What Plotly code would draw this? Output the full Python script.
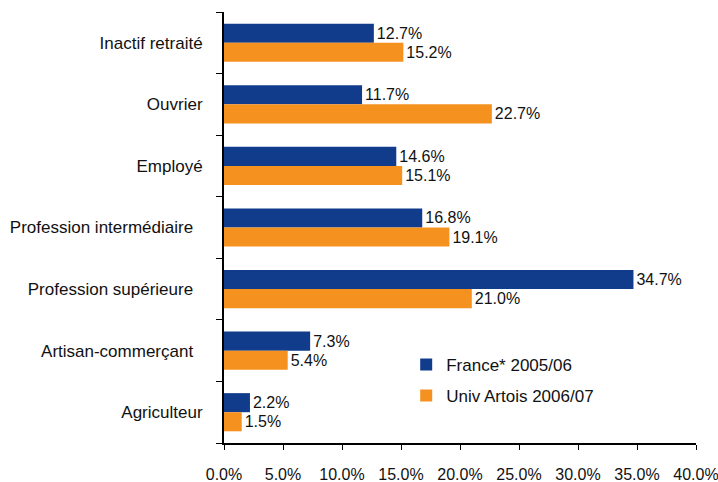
import plotly.graph_objects as go

categories = ["Inactif retraité", "Ouvrier", "Employé", "Profession intermédiaire",
              "Profession supérieure", "Artisan-commerçant", "Agriculteur"]
france = [12.7, 11.7, 14.6, 16.8, 34.7, 7.3, 2.2]
artois = [15.2, 22.7, 15.1, 19.1, 21.0, 5.4, 1.5]
x_ticks = [0, 5, 10, 15, 20, 25, 30, 35, 40]

_BLUE = "#113c8b"
_ORANGE = "#f5911f"
_FAMILY = "Liberation Sans, Arial, sans-serif"
_FONT = dict(family=_FAMILY, size=16, color="#111111")
_FONT_BIG = dict(family=_FAMILY, size=17, color="#111111")

# the long labels sit a little further from the axis in the original
_pad = {"Profession intermédiaire", "Profession supérieure", "Artisan-commerçant"}
y_labels = [c + "\u00a0\u00a0" if c in _pad else c for c in categories]

fig = go.Figure()
fig.add_trace(go.Bar(
    y=categories, x=france, orientation="h", name="France* 2005/06",
    marker=dict(color=_BLUE, line=dict(width=0)),
    text=[f"{v:.1f}%" for v in france], textposition="outside",
    textfont=_FONT, cliponaxis=False, legendgroup="a",
))
fig.add_trace(go.Bar(
    y=categories, x=artois, orientation="h", name="Univ Artois 2006/07",
    marker=dict(color=_ORANGE, line=dict(width=0)),
    text=[f"{v:.1f}%" for v in artois], textposition="outside",
    textfont=_FONT, cliponaxis=False, legendgroup="b",
))

fig.update_layout(
    width=718, height=482,
    font=_FONT,
    plot_bgcolor="white", paper_bgcolor="white",
    margin=dict(l=224, r=22, t=12, b=39),
    barmode="group", bargap=0.38, bargroupgap=0,
    showlegend=True,
    legend=dict(x=0.386, y=0.223, xanchor="left", yanchor="top",
                bgcolor="rgba(0,0,0,0)", font=_FONT_BIG, tracegroupgap=6),
    uniformtext=dict(mode="show", minsize=16),
)
fig.update_xaxes(
    range=[0, 40], tickvals=x_ticks, ticktext=[f"{v:.1f}%" for v in x_ticks],
    tickfont=_FONT, ticklabeloverflow="allow",
    showgrid=False, zeroline=False, showline=True, linecolor="black", linewidth=2,
    ticks="outside", ticklen=5, tickcolor="black", ticklabelstandoff=11,
    automargin=False,
)
fig.update_yaxes(
    autorange="reversed", showgrid=False, zeroline=False, tickfont=_FONT_BIG,
    tickvals=categories, ticktext=y_labels,
    showline=True, linecolor="black", linewidth=2,
    ticks="outside", ticklen=6, tickcolor="black", tickson="boundaries",
    ticklabelstandoff=16, automargin=False,
)

# drop the default 8px body margin so the figure fills the window
fig.write_html("out.html", config={"displayModeBar": False},
               post_script="document.body.style.margin='0';")
